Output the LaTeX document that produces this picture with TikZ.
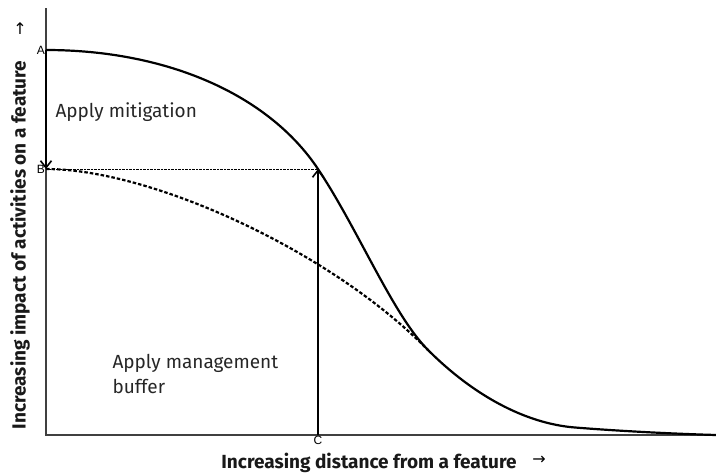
\documentclass[tikz,border=0pt]{standalone}
\usepackage{fontspec}
\setmainfont{Fira Sans}
\newfontfamily\arrowfont{DejaVu Sans}
\newfontfamily\tickfont{Liberation Sans}
\usepackage{tikz}
\usetikzlibrary{calc}
\usetikzlibrary{arrows.meta}

\begin{document}
\begin{tikzpicture}[x=1pt,y=-1pt,
        curve/.style={line width=2.2pt},
        tick/.style={font=\tickfont\fontsize{12}{13}\selectfont,inner sep=1pt},
        axislabel/.style={font=\bfseries\fontsize{19}{21}\selectfont,text=black!90},
        note/.style={font=\fontsize{19}{25}\selectfont,align=left,text=black!85},
        barb/.style={-{Straight Barb[length=7pt,width=11pt]},line width=1.6pt}]
            \useasboundingbox (0,0) rectangle (716,474);
            \coordinate (o) at (46,435);
            \coordinate (top) at (46,8);
            \coordinate (end) at (716,435);
            \coordinate (a) at (46,50);
            \coordinate (b) at (46,169);
            \coordinate (c) at (318,435);
            \coordinate (p) at (318,169);
            \coordinate (m) at (428,350);
            \coordinate (q) at (575,427.5);

            % axes
            \draw[black!75,line width=1.1pt] (top)--(o)--(end);
            \node[tick,left] (la) at (a) {A};
            \node[tick,left] (lb) at (b) {B};
            \node[tick,below] (lc) at (c) {C};

            % impact with mitigation (dashed)
            \draw[curve,dash pattern=on 3.5pt off 2pt] (b) .. controls (150,169) and (330,250) .. (m);
            % impact without mitigation
            \draw[curve] (a) .. controls (166,50) and (268,94) .. (p)
                .. controls (358,229) and (393,315) .. (m)
                .. controls (473,395) and (525,423.5) .. (q)
                .. controls (625,431.5) and (680,434) .. (end);

            \draw[densely dotted,thin] (b)--(p);
            \draw[barb] (a)--(b);
            \draw[barb] (c)--(p);

            \node[note,anchor=west] (mit) at (52,112) {Apply mitigation};
            \node[note,anchor=north west] (buf) at (109,351) {Apply management\\buffer};

            \node[axislabel] (xl) at (369,463) {Increasing distance from a feature};
            \node[font=\arrowfont\fontsize{16}{17}\selectfont] (xa) at (539,460) {→};
            \node[axislabel,rotate=90] (yl) at (20,245) {Increasing impact of activities on a feature};
            \node[font=\arrowfont\fontsize{16}{17}\selectfont] (ya) at (20,29) {↑};
        \end{tikzpicture}
\end{document}
